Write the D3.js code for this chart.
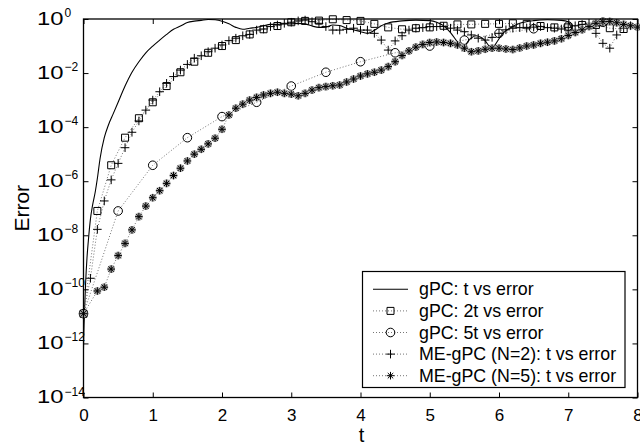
<!DOCTYPE html>
<html>
<head>
<meta charset="utf-8">
<script src="https://cdn.jsdelivr.net/npm/d3@7"></script>
<style>
  html, body { margin: 0; padding: 0; background: #fff; }
  svg { display: block; font-family: "Liberation Sans", Arial, Helvetica, sans-serif; }
</style>
</head>
<body>
<svg id="chart" width="640" height="445"></svg>
<script>
// Values. Errors are kept as log10(error).

const xTicks = [0, 1, 2, 3, 4, 5, 6, 7, 8];
const yTickExps = [0, -2, -4, -6, -8, -10, -12, -14];

// gPC: t vs error (solid line)
const gpcT = [0, 0.005, 0.015, 0.03, 0.05, 0.07, 0.1, 0.13, 0.17, 0.2, 0.24, 0.3, 0.36, 0.43, 0.5,
  0.6, 0.7, 0.8, 0.9, 1.0, 1.1, 1.2, 1.3, 1.4, 1.5, 1.6, 1.7, 1.8, 1.9, 2.0, 2.1, 2.2, 2.3, 2.4,
  2.5, 2.6, 2.7, 2.8, 2.9, 3.0, 3.1, 3.2, 3.3, 3.4, 3.5, 3.6, 3.7, 3.8, 3.9, 4.0, 4.1, 4.2, 4.3,
  4.4, 4.6, 4.8, 5.0, 5.1, 5.2, 5.3, 5.4, 5.48, 5.56, 5.67, 5.78, 5.9, 5.97, 6.05, 6.15, 6.3,
  6.5, 6.7, 6.9, 7.0, 7.05, 7.1, 7.2, 7.3, 7.5, 7.7, 7.9, 8.0];
const gpcLogErr = [-12.2, -11.6, -10.8, -9.8, -8.85, -8.2, -7.4, -6.9, -6.39, -5.9, -5.15, -4.39,
  -3.92, -3.5, -3.08, -2.48, -1.97, -1.58, -1.25, -1.0, -0.78, -0.57, -0.38, -0.26, -0.13, -0.08,
  -0.05, -0.02, -0.03, -0.08, -0.18, -0.31, -0.38, -0.34, -0.31, -0.25, -0.2, -0.2, -0.18, -0.18,
  -0.16, -0.18, -0.26, -0.31, -0.3, -0.22, -0.24, -0.34, -0.4, -0.47, -0.53, -0.42, -0.25, -0.15,
  -0.07, -0.04, -0.06, -0.12, -0.25, -0.5, -0.85, -1.08, -0.8, -0.62, -0.75, -1.08, -0.85, -0.55,
  -0.35, -0.16, -0.06, -0.03, -0.05, -0.1, -0.35, -0.42, -0.4, -0.35, -0.22, -0.18, -0.2, -0.22];

// gPC: 2t vs error (squares)
const gpc2T = [0, 0.2, 0.4, 0.6, 0.8, 1.0, 1.2, 1.4, 1.6, 1.8, 2.0, 2.2, 2.4, 2.6, 2.8, 3.0, 3.2,
  3.4, 3.6, 3.8, 4.0, 4.2, 4.4, 4.6, 4.8, 5.0, 5.2, 5.4, 5.6, 5.8, 6.0, 6.2, 6.4, 6.6, 6.8, 7.0,
  7.2, 7.4, 7.6, 7.8];
const gpc2LogErr = [-10.9, -7.1, -5.41, -4.39, -3.67, -3.08, -2.48, -1.97, -1.58, -1.25, -1.0,
  -0.78, -0.57, -0.38, -0.26, -0.12, -0.07, -0.06, -0.01, -0.04, -0.07, -0.18, -0.31, -0.38,
  -0.34, -0.31, -0.25, -0.2, -0.2, -0.18, -0.18, -0.16, -0.18, -0.26, -0.31, -0.31, -0.22,
  -0.22, -0.34, -0.37];

// gPC: 5t vs error (circles)
const gpc5T = [0, 0.5, 1.0, 1.5, 2.0, 2.5, 3.0, 3.5, 4.0, 4.5, 5.0, 5.5, 6.0, 6.5, 7.0, 7.5];
const gpc5LogErr = [-10.9, -7.1, -5.41, -4.39, -3.61, -3.08, -2.48, -1.97, -1.58, -1.25, -1.0,
  -0.78, -0.53, -0.36, -0.26, -0.12];

// ME-gPC (N=2): t vs error (plus)
const me2T = [0, 0.1, 0.2, 0.3, 0.4, 0.5, 0.6, 0.7, 0.8, 0.9, 1.0, 1.1, 1.2, 1.3, 1.4, 1.5, 1.6,
  1.7, 1.8, 1.9, 2.0, 2.1, 2.2, 2.3, 2.4, 2.5, 2.6, 2.7, 2.8, 2.9, 3.0, 3.1, 3.2, 3.3, 3.4, 3.5,
  3.6, 3.7, 3.8, 3.9, 4.0, 4.1, 4.2, 4.3, 4.4, 4.5, 4.6, 4.7, 4.8, 4.9, 5.0, 5.1, 5.2, 5.3, 5.4,
  5.5, 5.6, 5.7, 5.8, 5.9, 6.0, 6.1, 6.2, 6.3, 6.4, 6.5, 6.6, 6.7, 6.8, 6.9, 7.0, 7.1, 7.2, 7.3,
  7.4, 7.5, 7.6, 7.7, 7.8, 7.9, 8.0];
const me2LogErr = [-10.9, -9.59, -7.78, -6.73, -5.95, -5.34, -4.76, -4.19, -3.77, -3.37, -3.0,
  -2.69, -2.38, -2.13, -1.89, -1.68, -1.45, -1.36, -1.21, -1.08, -0.96, -0.8, -0.71, -0.62,
  -0.57, -0.41, -0.37, -0.28, -0.22, -0.16, -0.12, -0.07, -0.04, -0.1, -0.16, -0.28, -0.41,
  -0.41, -0.38, -0.34, -0.41, -0.41, -0.53, -0.78, -1.15, -0.81, -0.62, -0.41, -0.34, -0.32,
  -0.28, -0.28, -0.28, -0.34, -0.41, -0.47, -0.59, -0.71, -0.78, -0.68, -0.53, -0.4, -0.34,
  -0.32, -0.34, -0.3, -0.28, -0.32, -0.34, -0.37, -0.32, -0.25, -0.2, -0.16, -0.53, -0.9,
  -1.08, -0.59, -0.34, -0.25, -0.22];

// ME-gPC (N=5): t vs error (asterisk)
const me5T = [0, 0.2, 0.3, 0.4, 0.5, 0.6, 0.7, 0.8, 0.9, 1.0, 1.1, 1.2, 1.3, 1.4, 1.5, 1.6, 1.7,
  1.8, 1.9, 2.0, 2.1, 2.2, 2.3, 2.4, 2.5, 2.6, 2.7, 2.8, 2.9, 3.0, 3.1, 3.2, 3.3, 3.4, 3.5, 3.6,
  3.7, 3.8, 3.9, 4.0, 4.1, 4.2, 4.3, 4.4, 4.5, 4.6, 4.7, 4.8, 4.9, 5.0, 5.1, 5.2, 5.3, 5.4, 5.5,
  5.6, 5.7, 5.8, 5.9, 6.0, 6.1, 6.2, 6.3, 6.4, 6.5, 6.6, 6.7, 6.8, 6.9, 7.0, 7.1, 7.2, 7.3, 7.4,
  7.5, 7.6, 7.7, 7.8, 7.9, 8.0];
const me5LogErr = [-10.9, -10.06, -9.92, -9.25, -8.75, -8.3, -7.8, -7.31, -6.92, -6.61, -6.35,
  -6.08, -5.79, -5.52, -5.25, -5.0, -4.82, -4.62, -4.41, -4.08, -3.55, -3.3, -3.15, -3.0, -2.9,
  -2.81, -2.75, -2.71, -2.75, -2.78, -2.84, -2.75, -2.63, -2.54, -2.5, -2.47, -2.44, -2.33,
  -2.22, -2.11, -2.03, -1.97, -1.89, -1.76, -1.58, -1.35, -1.18, -1.04, -0.94, -0.87, -0.85,
  -0.87, -0.9, -0.96, -1.08, -1.21, -1.18, -1.12, -1.08, -1.08, -1.11, -1.13, -1.07, -1.0,
  -0.96, -0.9, -0.86, -0.81, -0.73, -0.61, -0.5, -0.4, -0.28, -0.16, -0.1, -0.09, -0.14, -0.2,
  -0.25, -0.3];

const series = [
  { name: 'gPC: t vs error', t: gpcT, e: gpcLogErr, dotted: false, marker: null },
  { name: 'gPC: 2t vs error', t: gpc2T, e: gpc2LogErr, dotted: true, marker: 'square' },
  { name: 'gPC: 5t vs error', t: gpc5T, e: gpc5LogErr, dotted: true, marker: 'circle' },
  { name: 'ME-gPC (N=2): t vs error', t: me2T, e: me2LogErr, dotted: true, marker: 'plus' },
  { name: 'ME-gPC (N=5): t vs error', t: me5T, e: me5LogErr, dotted: true, marker: 'star' }
];

const W = 640, H = 445;
const margin = { top: 19, right: 2.5, bottom: 47.5, left: 83.5 };
const plotW = W - margin.left - margin.right;
const plotH = H - margin.top - margin.bottom;

const x = d3.scaleLinear().domain([0, 8]).range([margin.left, W - margin.right]);
const y = d3.scaleLog().domain([1e-14, 1]).range([H - margin.bottom, margin.top]);

const svg = d3.select('#chart');

svg.append('defs').append('clipPath').attr('id', 'plot-clip')
  .append('rect')
  .attr('x', margin.left).attr('y', margin.top)
  .attr('width', plotW).attr('height', plotH);

function markerPath(type) {
  switch (type) {
    case 'square': { const s = 3.5; return `M${-s},${-s}H${s}V${s}H${-s}Z`; }
    case 'circle': { const r = 4.3; return `M${r},0A${r},${r} 0 1,1 ${-r},0A${r},${r} 0 1,1 ${r},0Z`; }
    case 'plus': { const s = 4.3; return `M${-s},0H${s}M0,${-s}V${s}`; }
    case 'star': {
      const s = 3.8, d = s * 0.72;
      return `M${-s},0H${s}M0,${-s}V${s}M${-d},${-d}L${d},${d}M${-d},${d}L${d},${-d}`;
    }
  }
  return '';
}

// lines
const lineGroup = svg.append('g').attr('clip-path', 'url(#plot-clip)');
const markerGroup = svg.append('g');

series.forEach(s => {
  const pts = s.t.map((t, i) => ({ t, v: Math.pow(10, s.e[i]) }));
  const line = d3.line()
    .x(d => x(d.t))
    .y(d => y(d.v))
    .curve(s.dotted ? d3.curveLinear : d3.curveMonotoneX);

  lineGroup.append('path')
    .datum(pts)
    .attr('d', line)
    .attr('fill', 'none')
    .attr('stroke', s.dotted ? '#666' : '#000')
    .attr('stroke-width', s.dotted ? 0.9 : 1.1)
    .attr('stroke-dasharray', s.dotted ? '1,2' : null);

  if (s.marker) {
    const g = markerGroup.append('g');
    if (s.marker === 'star') {
      g.selectAll('path.halo')
        .data(pts)
        .join('path')
        .attr('class', 'halo')
        .attr('transform', d => `translate(${x(d.t)},${y(d.v)})`)
        .attr('d', markerPath('star'))
        .attr('fill', 'none')
        .attr('stroke', '#aaa')
        .attr('stroke-width', 3);
    }
    g.selectAll('path.mk')
      .data(pts)
      .join('path')
      .attr('class', 'mk')
      .attr('transform', d => `translate(${x(d.t)},${y(d.v)})`)
      .attr('d', markerPath(s.marker))
      .attr('fill', 'none')
      .attr('stroke', '#000')
      .attr('stroke-width', 1);
  }
});

// axes: ticks inward on all four sides
const bottomAxis = d3.axisBottom(x).tickValues(xTicks).tickSizeInner(-5).tickSizeOuter(0).tickPadding(11.5);
const topAxis = d3.axisTop(x).tickValues(xTicks).tickSizeInner(-5).tickSizeOuter(0).tickFormat('');
const yTickVals = yTickExps.map(e => Math.pow(10, e));
const leftAxis = d3.axisLeft(y).tickValues(yTickVals).tickSizeInner(-5).tickSizeOuter(0).tickFormat('');
const rightAxis = d3.axisRight(y).tickValues(yTickVals).tickSizeInner(-5).tickSizeOuter(0).tickFormat('');

function styleAxis(g) {
  g.select('.domain').remove();
  g.selectAll('.tick line').attr('stroke', '#000').attr('stroke-width', 1);
  g.selectAll('.tick text').attr('fill', '#000').attr('font-size', 17)
    .attr('font-family', '"Liberation Sans", Arial, Helvetica, sans-serif');
}

svg.append('g').attr('transform', `translate(0,${H - margin.bottom})`).call(bottomAxis).call(styleAxis);
svg.append('g').attr('transform', `translate(0,${margin.top})`).call(topAxis).call(styleAxis);
svg.append('g').attr('transform', `translate(${margin.left},0)`).call(leftAxis).call(styleAxis);
svg.append('g').attr('transform', `translate(${W - margin.right},0)`).call(rightAxis).call(styleAxis);

// y tick labels as 10^n
const yLabels = svg.append('g').attr('fill', '#000');
yTickExps.forEach(e => {
  const yy = y(Math.pow(10, e));
  yLabels.append('text')
    .attr('x', 37).attr('y', yy + 5.8)
    .attr('font-size', 18)
    .attr('textLength', 26.5)
    .attr('lengthAdjust', 'spacingAndGlyphs')
    .text('10');
  yLabels.append('text')
    .attr('x', 64.5).attr('y', yy - 2)
    .attr('font-size', 12)
    .text(e === 0 ? '0' : '\u2212' + Math.abs(e));
});

// plot box
svg.append('rect')
  .attr('x', margin.left).attr('y', margin.top)
  .attr('width', plotW).attr('height', plotH)
  .attr('fill', 'none').attr('stroke', '#000').attr('stroke-width', 1.3);

// axis titles
svg.append('text')
  .attr('x', x(4) + 1).attr('y', 441.5)
  .attr('text-anchor', 'middle').attr('font-size', 20)
  .text('t');

svg.append('text')
  .attr('transform', `translate(29,${(margin.top + H - margin.bottom) / 2}) rotate(-90)`)
  .attr('text-anchor', 'middle').attr('font-size', 21)
  .text('Error');

// legend
const legend = svg.append('g');
legend.append('rect')
  .attr('x', 362.5).attr('y', 271.5)
  .attr('width', 262.5).attr('height', 116)
  .attr('fill', '#fff').attr('stroke', '#000').attr('stroke-width', 1.2);

series.forEach((s, i) => {
  const ry = 289.3 + i * 21.6;
  legend.append('line')
    .attr('x1', 373).attr('x2', 408).attr('y1', ry).attr('y2', ry)
    .attr('stroke', s.dotted ? '#666' : '#000')
    .attr('stroke-width', s.dotted ? 0.9 : 1.1)
    .attr('stroke-dasharray', s.dotted ? '1,2' : null);
  if (s.marker) {
    legend.append('path')
      .attr('transform', `translate(390.5,${ry})`)
      .attr('d', markerPath(s.marker))
      .attr('fill', 'none').attr('stroke', '#000').attr('stroke-width', 1);
  }
  legend.append('text')
    .attr('x', 419).attr('y', ry + 6)
    .attr('font-size', 17.8)
    .text(s.name);
});
</script>
</body>
</html>
